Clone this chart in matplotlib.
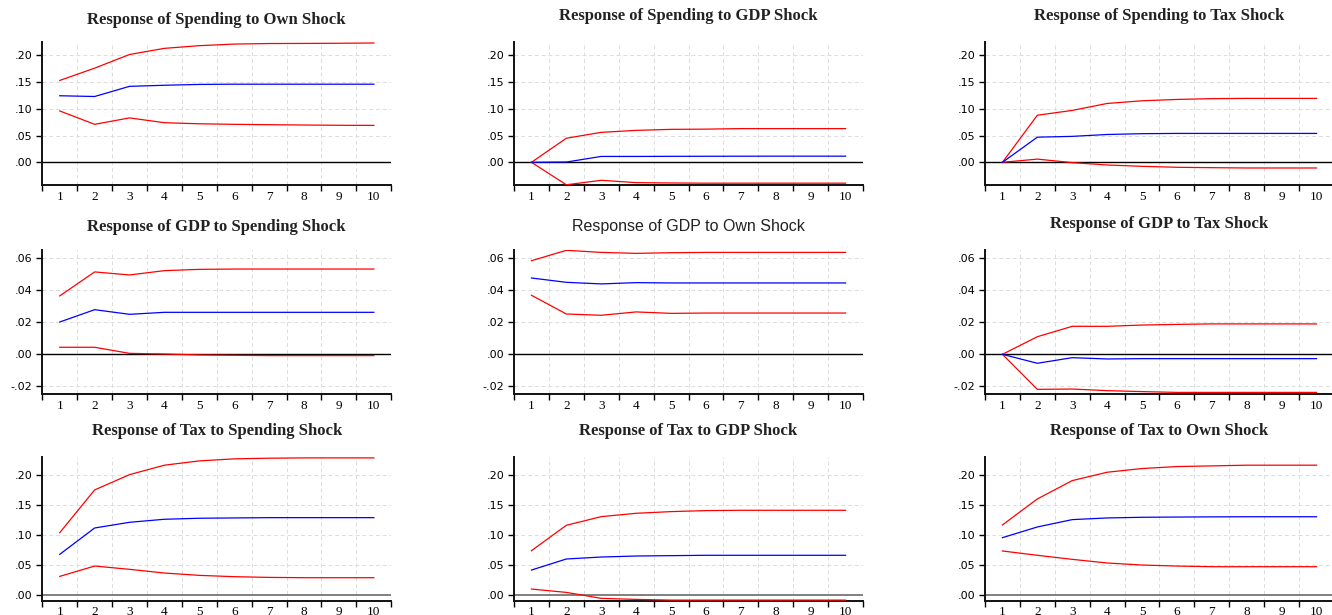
import matplotlib.pyplot as plt
import numpy as np

# --- impulse response data (periods 1..10) ---
periods = list(range(1, 11))

titles = [
    "Response of Spending to Own Shock", "Response of Spending to GDP Shock", "Response of Spending to Tax Shock",
    "Response of GDP to Spending Shock", "Response of GDP to Own Shock", "Response of GDP to Tax Shock",
    "Response of Tax to Spending Shock", "Response of Tax to GDP Shock", "Response of Tax to Own Shock",
]

resp = [
    [0.1244, 0.123, 0.142, 0.144, 0.1456, 0.146, 0.146, 0.146, 0.146, 0.146],
    [0.0, 0.0005, 0.011, 0.011, 0.0112, 0.0113, 0.0114, 0.0115, 0.0115, 0.0115],
    [0.0, 0.047, 0.0485, 0.052, 0.0535, 0.054, 0.054, 0.054, 0.054, 0.054],
    [0.0202, 0.0279, 0.025, 0.02625, 0.02625, 0.02625, 0.02625, 0.02625, 0.02625, 0.02625],
    [0.0477, 0.045, 0.044, 0.0448, 0.0446, 0.0446, 0.0446, 0.0446, 0.0446, 0.0446],
    [0.0, -0.0056, -0.0021, -0.0029, -0.0027, -0.0027, -0.0027, -0.0027, -0.0027, -0.0027],
    [0.0676, 0.1117, 0.1212, 0.1263, 0.128, 0.1285, 0.129, 0.129, 0.129, 0.129],
    [0.0413, 0.0598, 0.0631, 0.0648, 0.0654, 0.066, 0.066, 0.066, 0.066, 0.066],
    [0.0955, 0.1134, 0.1257, 0.1285, 0.1296, 0.130, 0.1303, 0.1305, 0.1305, 0.1305],
]

upper = [
    [0.153, 0.176, 0.2015, 0.213, 0.218, 0.221, 0.222, 0.2222, 0.2225, 0.223],
    [0.0, 0.045, 0.056, 0.0597, 0.0616, 0.062, 0.063, 0.063, 0.063, 0.063],
    [0.0, 0.088, 0.097, 0.110, 0.115, 0.1175, 0.119, 0.1195, 0.1195, 0.1195],
    [0.0365, 0.0515, 0.0496, 0.0523, 0.0531, 0.0533, 0.0533, 0.0533, 0.0533, 0.0533],
    [0.0585, 0.065, 0.0637, 0.0631, 0.0635, 0.0637, 0.0637, 0.0637, 0.0637, 0.0637],
    [0.0, 0.011, 0.0175, 0.0175, 0.0183, 0.0187, 0.019, 0.019, 0.019, 0.019],
    [0.1039, 0.1754, 0.201, 0.2168, 0.224, 0.2274, 0.2285, 0.229, 0.229, 0.229],
    [0.0737, 0.1162, 0.1307, 0.1363, 0.1391, 0.1408, 0.1413, 0.1413, 0.1413, 0.1413],
    [0.1168, 0.1603, 0.191, 0.205, 0.2112, 0.2145, 0.2156, 0.2168, 0.2168, 0.2168],
]

lower = [
    [0.096, 0.071, 0.083, 0.074, 0.072, 0.071, 0.0703, 0.0697, 0.0692, 0.069],
    [0.0, -0.042, -0.0336, -0.038, -0.0386, -0.039, -0.039, -0.039, -0.039, -0.039],
    [0.0, 0.006, -0.0006, -0.005, -0.0075, -0.0093, -0.010, -0.0106, -0.0106, -0.0106],
    [0.0044, 0.0044, 0.0006, 0.0002, -0.0004, -0.0006, -0.0008, -0.0008, -0.0008, -0.0008],
    [0.0369, 0.0252, 0.0244, 0.0265, 0.0256, 0.0258, 0.0258, 0.0258, 0.0258, 0.0258],
    [0.0, -0.0219, -0.0217, -0.0227, -0.0233, -0.0238, -0.0238, -0.0238, -0.0238, -0.0238],
    [0.0307, 0.048, 0.0425, 0.0363, 0.0324, 0.0302, 0.029, 0.0285, 0.0285, 0.0285],
    [0.0095, 0.0039, -0.0061, -0.0078, -0.009, -0.009, -0.009, -0.009, -0.009, -0.009],
    [0.0732, 0.066, 0.0592, 0.0531, 0.0497, 0.048, 0.0469, 0.0469, 0.0469, 0.0469],
]

row_yticks = [
    [0.0, 0.05, 0.10, 0.15, 0.20],
    [-0.02, 0.0, 0.02, 0.04, 0.06],
    [0.0, 0.05, 0.10, 0.15, 0.20],
]
row_ytick_labels = [
    [".00", ".05", ".10", ".15", ".20"],
    ["-.02", ".00", ".02", ".04", ".06"],
    [".00", ".05", ".10", ".15", ".20"],
]
row_ylim = [(-0.0424, 0.2243), (-0.0248, 0.0652), (-0.010, 0.230)]

# --- layout in pixels ---
W, H = 1332, 615
col_left = [42.3, 514, 985]
col_width = 349
row_top = [42.3, 250, 457.3]
row_bottom = [185, 394, 600.7]
title_y = [[20, 16, 16], [227, 227, 224], [431, 431, 431]]

fig = plt.figure(figsize=(W / 100, H / 100), dpi=100)

for i in range(9):
    r, c = divmod(i, 3)
    ax = fig.add_axes([col_left[c] / W, 1 - row_bottom[r] / H,
                       col_width / W, (row_bottom[r] - row_top[r]) / H])
    ax.set_xlim(0.5, 10.5)
    ax.set_ylim(*row_ylim[r])

    ax.grid(True, color="#dcdcdc", linestyle=(0, (4, 3)), linewidth=0.7)
    ax.set_axisbelow(True)
    zc = "#808080" if r == 2 else "black"
    ax.axhline(0, color=zc, linewidth=1.0 if r < 2 else 1.4, zorder=2)

    ax.plot(periods, upper[i], color="#ff0000", linewidth=0.9, zorder=3)
    ax.plot(periods, lower[i], color="#ff0000", linewidth=0.9, zorder=3)
    ax.plot(periods, resp[i], color="#0000ff", linewidth=0.9, zorder=3)

    # x ticks at half periods, labels at whole periods
    ax.set_xticks(np.arange(0.5, 11, 1.0))
    ax.set_xticklabels([])
    ax.set_xticks(periods, minor=True)
    ax.set_xticklabels([str(p) for p in periods], minor=True,
                       fontfamily="Liberation Serif", fontsize=9.5)
    ax.tick_params(axis="x", which="major", direction="out", length=4, width=1)
    ax.tick_params(axis="x", which="minor", length=0, pad=4)
    ax.xaxis.grid(True, which="major")

    ax.set_yticks(row_yticks[r])
    ax.set_yticklabels(row_ytick_labels[r], fontfamily="DejaVu Sans", fontsize=8)
    ax.tick_params(axis="y", direction="out", length=4, width=1, pad=3)

    for s in ["top", "right"]:
        ax.spines[s].set_visible(False)
    for s in ["left", "bottom"]:
        ax.spines[s].set_linewidth(1.4)
        ax.spines[s].set_color("#111111")

    cx = (col_left[c] + col_width / 2) / W
    if i == 4:
        fig.text(cx, 1 - title_y[r][c] / H, titles[i], ha="center", va="center",
                 fontfamily="Liberation Sans", fontsize=11.5, color="#222222")
    else:
        fig.text(cx, 1 - title_y[r][c] / H, titles[i], ha="center", va="center",
                 fontfamily="Liberation Serif", fontsize=12, fontweight="bold",
                 color="#222222")

fig.savefig("out.png", dpi=100)
